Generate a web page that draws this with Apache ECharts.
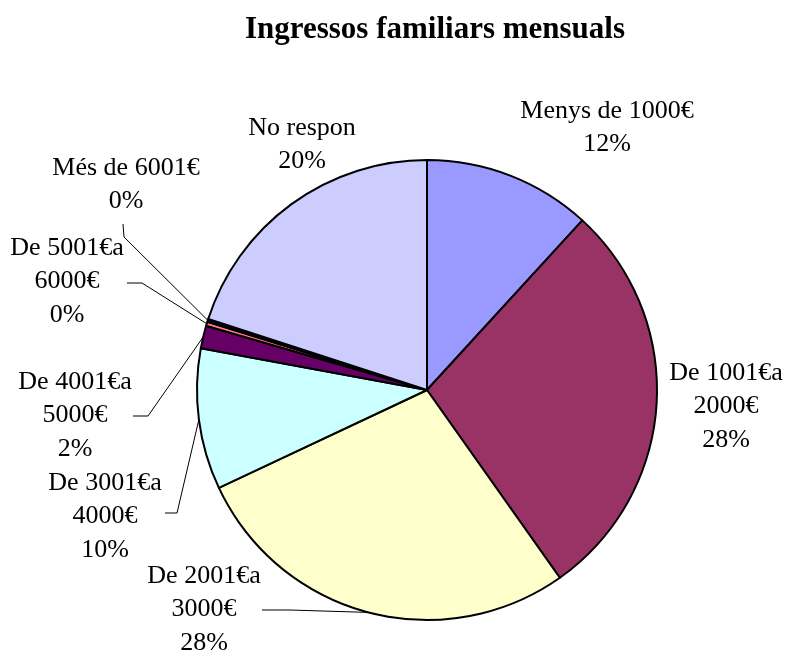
<!DOCTYPE html>
<html>
<head>
<meta charset="utf-8">
<script src="https://cdn.jsdelivr.net/npm/echarts@6/dist/echarts.min.js"></script>
<style>
  html, body { margin: 0; padding: 0; background: #fff; }
  #chart { width: 787px; height: 654px; }
</style>
</head>
<body>
<div id="chart"></div>
<script>
    // trams d'ingressos (ordre horari des de dalt)
    var categories = [
        'Menys de 1000€',
        'De 1001€a\n2000€',
        'De 2001€a\n3000€',
        'De 3001€a\n4000€',
        'De 4001€a\n5000€',
        'De 5001€a\n6000€',
        'Més de 6001€',
        'No respon'
    ];
    // percentatge de llars
    var values = [11.8, 28.4, 27.8, 9.9, 1.6, 0.3, 0.2, 20.0];
    var colors = ['#9999FF', '#993366', '#FFFFCC', '#CCFFFF', '#660066', '#FF8080', '#000066', '#CCCCFF'];

    // posicio de cada etiqueta: x centre, y dalt, colze i final de la linia
    var labelPos = [
        { x: 607, y: 94 },
        { x: 726, y: 356 },
        { x: 204, y: 559, bend: [290, 610], end: [262, 610] },
        { x: 105, y: 466, bend: [177, 513], end: [165, 513] },
        { x: 75, y: 365, bend: [148, 416], end: [133, 416] },
        { x: 67, y: 231, bend: [142, 283], end: [127, 283] },
        { x: 126, y: 151, bend: [124, 237], end: [123, 224] },
        { x: 302, y: 111 }
    ];

    var chart = echarts.init(document.getElementById('chart'));

    var option = {
        backgroundColor: '#fff',
        animation: false,
        title: {
            text: 'Ingressos familiars mensuals',
            left: 430,
            top: 9,
            textAlign: 'center',
            textStyle: {
                fontFamily: 'Liberation Serif',
                fontSize: 31,
                fontWeight: 'bold',
                color: '#000'
            }
        },
        series: [{
            type: 'pie',
            center: [427, 390],
            radius: 230,
            startAngle: 90,
            clockwise: true,
            avoidLabelOverlap: false,
            percentPrecision: 0,
            itemStyle: {
                borderColor: '#000',
                borderWidth: 2
            },
            label: {
                show: true,
                position: 'outside',
                formatter: '{b}\n{d}%',
                fontFamily: 'Liberation Serif',
                fontSize: 26,
                lineHeight: 33.5,
                color: '#000',
                align: 'center'
            },
            labelLine: {
                show: true,
                lineStyle: { color: '#000', width: 1 }
            },
            labelLayout: function (params) {
                var p = labelPos[params.dataIndex];
                var res = { x: p.x, y: p.y, align: 'center', verticalAlign: 'top' };
                if (p.bend && params.labelLinePoints) {
                    res.labelLinePoints = [params.labelLinePoints[0], p.bend, p.end];
                }
                return res;
            },
            emphasis: { disabled: true },
            data: categories.map(function (name, i) {
                return {
                    name: name,
                    value: values[i],
                    itemStyle: { color: colors[i] },
                    labelLine: { show: !!labelPos[i].bend }
                };
            })
        }]
    };

    chart.setOption(option);
</script>
</body>
</html>
